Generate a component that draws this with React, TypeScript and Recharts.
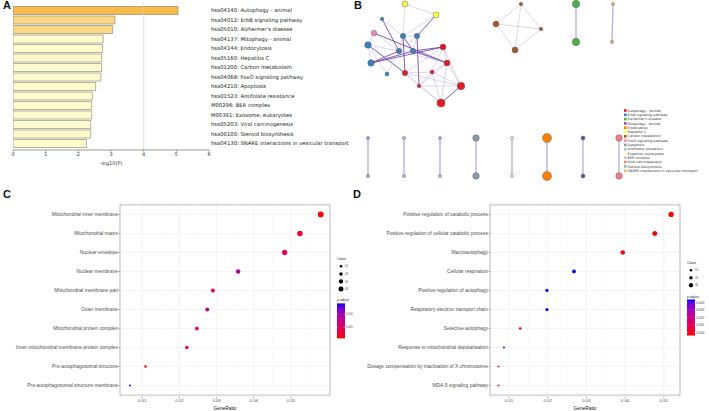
import React from 'react';
import {
  BarChart, Bar, XAxis, YAxis, ReferenceLine, Cell, ScatterChart, Scatter,
  CartesianGrid, ReferenceArea,
} from 'recharts';

// ---------------- Panel A data (Metascape KEGG enrichment) ----------------
const keggTerms = [
  'hsa04140: Autophagy - animal',
  'hsa04012: ErbB signaling pathway',
  "hsa05010: Alzheimer's disease",
  'hsa04137: Mitophagy - animal',
  'hsa04144: Endocytosis',
  'hsa05160: Hepatitis C',
  'hsa01200: Carbon metabolism',
  'hsa04068: FoxO signaling pathway',
  'hsa04210: Apoptosis',
  'hsa01523: Antifolate resistance',
  'M00296: BER complex',
  'M00391: Exosome, eukaryotes',
  'hsa05203: Viral carcinogenesis',
  'hsa00100: Steroid biosynthesis',
  'hsa04130: SNARE interactions in vesicular transport',
];
const keggLogP = [5.05, 3.12, 3.05, 2.76, 2.74, 2.71, 2.71, 2.69, 2.53, 2.43, 2.41, 2.41, 2.38, 2.38, 2.25];
const keggTicks = [0, 1, 2, 3, 4, 5, 6];

// ---------------- Panel B data (enriched term network) ----------------
const netClusters = [
  'Autophagy - animal', 'ErbB signaling pathway', "Alzheimer's disease", 'Mitophagy - animal',
  'Endocytosis', 'Hepatitis C', 'Carbon metabolism', 'FoxO signaling pathway', 'Apoptosis',
  'Antifolate resistance', 'Exosome, eukaryotes', 'BER complex', 'Viral carcinogenesis',
  'Steroid biosynthesis', 'SNARE interactions in vesicular transport',
];
const netClusterColors = [
  '#e41a1c', '#3a80b9', '#4daf4a', '#5b4b9f', '#ff7f00', '#ffff33', '#a65628', '#f781bf',
  '#8d9cab', '#8dd3c7', '#f4f9ef', '#bebada', '#f28080', '#80b1d3', '#fdb462',
];
const netLegendColors = [
  '#e41a1c', '#377eb8', '#4daf4a', '#984ea3', '#ff7f00', '#ffff33', '#a65628', '#f781bf',
  '#999999', '#8dd3c7', '#ffffb3', '#bebada', '#fb8072', '#80b1d3', '#fdb462',
];
// layout coordinates of each term node, its cluster and its gene count
const netNodeX = [50, 81, 27, 19, 48, 62, 13, 44, 58, 16, 32, 88, 92, 50, 77, 64, 106, 86,
  166, 141, 186, 160, 221, 221, 258, 257,
  13, 13, 49, 49, 85, 85, 121, 121, 157, 157, 192, 192, 228, 228, 264, 264];
const netNodeY = [4, 15, 19, 33, 36, 36, 45, 51, 51, 63, 74, 47, 63, 73, 72, 86, 86, 103,
  4, 24, 29, 50, 4, 42, 4, 42,
  138, 176, 138, 176, 138, 176, 138, 176, 138, 176, 138, 176, 138, 176, 138, 176];
const netNodeCluster = [5, 5, 1, 7, 1, 1, 1, 1, 1, 1, 1, 0, 0, 0, 0, 0, 0, 0,
  6, 6, 6, 6, 2, 2, 14, 14,
  13, 13, 11, 11, 9, 9, 8, 8, 10, 10, 4, 4, 3, 3, 12, 12];
const netNodeCount = [11, 11, 4, 9, 9, 9, 13, 9, 9, 13, 5, 11, 11, 9, 5, 4, 18, 20,
  4, 11, 4, 11, 17, 17, 3, 3,
  3, 3, 3, 3, 3, 3, 13, 13, 3, 3, 25, 25, 5, 5, 13, 13];
// edges: [from, to, strong(1)/weak(0)]
const netEdges: [number, number, number][] = [
  [0, 1, 0], [0, 4, 0], [1, 5, 1], [1, 4, 0], [2, 7, 1], [2, 4, 0], [3, 6, 0], [3, 7, 0], [3, 12, 1],
  [4, 5, 0], [4, 7, 0], [4, 8, 1], [5, 8, 0], [5, 7, 0], [4, 13, 1], [5, 15, 1],
  [6, 9, 0], [6, 7, 0], [6, 10, 0], [9, 7, 1], [9, 8, 1], [9, 11, 1], [7, 8, 0],
  [6, 13, 1], [10, 7, 0], [8, 11, 1], [8, 12, 1], [7, 12, 0],
  [11, 12, 0], [11, 14, 0], [11, 16, 0], [11, 13, 0], [12, 16, 0], [12, 14, 0], [12, 15, 0],
  [13, 14, 0], [13, 15, 0], [13, 17, 0], [13, 16, 0], [14, 15, 0], [14, 16, 0], [14, 17, 0],
  [15, 16, 0], [15, 17, 0], [16, 17, 1], [12, 17, 0],
  [18, 19, 0], [18, 20, 0], [18, 21, 0], [19, 20, 0], [19, 21, 0], [20, 21, 0],
  [22, 23, 1], [24, 25, 1],
  [26, 27, 1], [28, 29, 1], [30, 31, 1], [32, 33, 1], [34, 35, 1], [36, 37, 1], [38, 39, 1], [40, 41, 1],
];

// ---------------- Panel C data (GO cellular component) ----------------
const ccTerms = [
  'Mitochondrial inner membrane', 'Mitochondrial matrix', 'Nuclear envelope', 'Nuclear membrane',
  'Mitochondrial membrane part', 'Outer membrane', 'Mitochondrial protein complex',
  'Inner mitochondrial membrane protein complex', 'Pro-autophagosomal structure',
  'Pro-autophagosomal structure membrane',
];
const ccRatio = [0.058, 0.0524, 0.0483, 0.0358, 0.029, 0.0275, 0.0247, 0.022, 0.0109, 0.0067];
const ccCount = [52, 47, 43, 32, 26, 25, 22, 20, 10, 6];
const ccPadj = [0.0008, 0.0028, 0.0048, 0.0088, 0.0035, 0.0075, 0.0035, 0.0032, 0.0013, 0.0142];
const ccTicks = [0.01, 0.02, 0.03, 0.04, 0.05];
const ccMinor = [0.005, 0.015, 0.025, 0.035, 0.045, 0.055];
const ccCountLegend = [10, 20, 30, 40];
const ccPadjLegend = [0.010, 0.005];

// ---------------- Panel D data (GO biological process) ----------------
const bpTerms = [
  'Positive regulation of catabolic process', 'Positive regulation of cellular catabolic process',
  'Macroautophagy', 'Cellular respiration', 'Positive regulation of autophagy',
  'Respiratory electron transport chain', 'Selective autophagy',
  'Response to mitochondrial depolarisation', 'Dosage compensation by inactivation of X chromosome',
  'MDA-5 signaling pathway',
];
const bpRatio = [0.0519, 0.0477, 0.0394, 0.0268, 0.0198, 0.0198, 0.0129, 0.0087, 0.0073, 0.0073];
const bpCount = [44, 40, 33, 23, 17, 17, 11, 7, 6, 6];
const bpPadj = [0.00596, 0.00597, 0.00598, 0.00644, 0.00644, 0.00644, 0.00600, 0.00640, 0.00599, 0.00599];
const bpTicks = [0.01, 0.02, 0.03, 0.04, 0.05];
const bpMinor = [0.015, 0.025, 0.035, 0.045];
const bpCountLegend = [10, 20, 30];
const bpPadjLegend = [0.0064, 0.0063, 0.0062, 0.0061, 0.0060];

// ---------------- helpers ----------------
const GRAD = [
  [0, [255, 0, 0]], [0.25, [232, 0, 79]], [0.5, [201, 0, 137]], [0.75, [154, 0, 195]],
  [0.875, [112, 0, 221]], [1, [0, 0, 255]],
] as [number, number[]][];
function gradColor(t: number) {
  t = Math.max(0, Math.min(1, t));
  for (let i = 1; i < GRAD.length; i++) {
    const [t1, c1] = GRAD[i];
    const [t0, c0] = GRAD[i - 1];
    if (t <= t1) {
      const f = (t - t0) / (t1 - t0);
      const c = c0.map((v, k) => Math.round(v + (c1[k] - v) * f));
      return `rgb(${c[0]},${c[1]},${c[2]})`;
    }
  }
  return 'rgb(0,0,255)';
}
const dotR = (count: number) => 0.395 * Math.sqrt(count);
const nodeR = (count: number) => 0.9 * Math.sqrt(count);

const keggData = keggTerms.map((term, i) => ({ term, value: keggLogP[i] }));
const keggFill = (v: number) => (v >= 5 ? '#f8bb48' : v >= 3 ? '#fcd886' : '#fffbcd');

const netNodes = netNodeX.map((x, i) => ({ x, y: netNodeY[i], cluster: netNodeCluster[i], count: netNodeCount[i] }));

function makeRows(terms: string[], ratio: number[], count: number[], padj: number[]) {
  const lo = Math.min(...padj), hi = Math.max(...padj);
  return terms.map((term, i) => ({ term, ratio: ratio[i], count: count[i], padj: padj[i], t: (padj[i] - lo) / (hi - lo) }));
}
const ccData = makeRows(ccTerms, ccRatio, ccCount, ccPadj);
const bpData = makeRows(bpTerms, bpRatio, bpCount, bpPadj);

const SANS = 'Liberation Sans, Arial, sans-serif';
const DJV = 'DejaVu Sans, sans-serif';

// single-line tick label renderer (no wrapping)
const makeTick = (anchor: 'start' | 'end' | 'middle', fontSize: number, fill: string, family: string, dy: number) =>
  (props: any) => {
    const { x, y, payload } = props;
    return (
      <text x={x} y={y} dy={dy} textAnchor={anchor} fontSize={fontSize} fill={fill} fontFamily={family}>
        {payload.value}
      </text>
    );
  };
const keggYTick = makeTick('start', 5.25, '#222', DJV, 1.9);
const keggXTick = makeTick('middle', 5, '#333', DJV, 3.8);
const dotYTick = makeTick('end', 4.9, '#4d4d4d', SANS, 1.7);
const dotXTick = makeTick('middle', 4.3, '#4d4d4d', SANS, 3.3);

const DotShape = (props: any) => {
  const p = props.payload ?? props;
  if (props.cx == null || props.cy == null) return null;
  return <circle cx={props.cx} cy={props.cy} r={dotR(p.count)} fill={gradColor(p.t)} />;
};

const NodeShape = (props: any) => {
  const p = props.payload ?? props;
  if (props.cx == null || props.cy == null) return null;
  return (
    <circle cx={props.cx} cy={props.cy} r={nodeR(p.count)} fill={netClusterColors[p.cluster]}
      stroke="#5c6670" strokeWidth={0.5} />
  );
};

function DotLegend(props: { left: number; top: number; counts: number[]; padjLabels: number[]; padj: number[];
  rowGap: number; barH: number; digits: number }) {
  const { left, top, counts, padjLabels, padj, rowGap, barH, digits } = props;
  const lo = Math.min(...padj), hi = Math.max(...padj);
  const id = 'g' + left;
  const pTitle = 7 + counts.length * rowGap + 8;
  const barTop = pTitle + 2;
  return (
    <svg width={22} height={100} style={{ position: 'absolute', left, top, overflow: 'visible' }}>
      <defs>
        <linearGradient id={id} x1="0" y1="1" x2="0" y2="0">
          {GRAD.map(([t, c]) => (
            <stop key={t} offset={t} stopColor={`rgb(${c[0]},${c[1]},${c[2]})`} />
          ))}
        </linearGradient>
      </defs>
      <text x={0} y={4} fontSize={3.4} fontFamily={SANS} fill="#222">Count</text>
      {counts.map((c, i) => (
        <g key={c}>
          <circle cx={4} cy={7 + i * rowGap + rowGap / 2 - 0.5} r={dotR(c)} fill="#000" />
          <text x={8} y={7 + i * rowGap + rowGap / 2 + 0.6} fontSize={2.8} fontFamily={SANS} fill="#444">{c}</text>
        </g>
      ))}
      <text x={0} y={pTitle} fontSize={3.4} fontFamily={SANS} fill="#222">p.adjust</text>
      <rect x={0} y={barTop} width={8} height={barH} fill={`url(#${id})`} />
      {padjLabels.map((v) => {
        const t = (v - lo) / (hi - lo);
        const y = barTop + barH * (1 - t);
        return (
          <g key={v}>
            <line x1={0} x2={1.5} y1={y} y2={y} stroke="#fff" strokeWidth={0.3} />
            <line x1={6.5} x2={8} y1={y} y2={y} stroke="#fff" strokeWidth={0.3} />
            <text x={9} y={y + 1} fontSize={2.7} fontFamily={SANS} fill="#444">{v.toFixed(digits)}</text>
          </g>
        );
      })}
    </svg>
  );
}

function DotPlot(props: { data: any[]; width: number; yWidth: number; right: number; domain: [number, number];
  ticks: number[]; minor: number[] }) {
  const { data, width, yWidth, right, domain, ticks, minor } = props;
  return (
    <ScatterChart width={width} height={221} margin={{ top: 13, right, bottom: 0, left: 2 }}>
      <CartesianGrid stroke="#ebebeb" strokeWidth={0.6} />
      {minor.map((m) => (
        <ReferenceLine key={m} x={m} stroke="#f3f3f3" strokeWidth={0.4} />
      ))}
      <XAxis type="number" dataKey="ratio" domain={domain} allowDataOverflow ticks={ticks} height={14}
        tick={dotXTick} tickSize={1.5} tickMargin={0.5}
        tickLine={{ stroke: '#333', strokeWidth: 0.4 }} axisLine={false}
        label={{ value: 'GeneRatio', position: 'insideBottom', offset: 1.5, fontSize: 4.8, fill: '#111', fontFamily: SANS }} />
      <YAxis type="category" dataKey="term" reversed width={yWidth} interval={0} padding={{ top: 1.9, bottom: 1.9 }}
        tick={dotYTick} tickSize={1.5} tickMargin={0.6}
        tickLine={{ stroke: '#333', strokeWidth: 0.4 }} axisLine={false} />
      <ReferenceArea x1={domain[0]} x2={domain[1]} fill="none" stroke="#a6a6a6" strokeWidth={0.7} ifOverflow="visible" />
      <Scatter data={data} shape={DotShape} isAnimationActive={false} />
    </ScatterChart>
  );
}

const panelLabel = (text: string, left: number, top: number) => (
  <div style={{ position: 'absolute', left, top, fontFamily: 'Liberation Sans, Arial, sans-serif', fontWeight: 700,
    fontSize: 11, lineHeight: '11px', color: '#111' }}>{text}</div>
);

export default function App() {
  return (
    <div style={{ position: 'absolute', left: 0, top: 0, width: 709, height: 411, background: '#fff', overflow: 'hidden' }}>
      {/* Panel A */}
      <div style={{ position: 'absolute', left: 0, top: 0 }}>
        <BarChart width={360} height={170} data={keggData} layout="vertical"
          margin={{ top: 2, right: 0, left: 13, bottom: 4 }}>
          <XAxis type="number" domain={[0, 6]} ticks={keggTicks} height={16} allowDataOverflow
            tick={keggXTick} tickSize={1.8} tickMargin={0.8}
            tickLine={{ stroke: '#555', strokeWidth: 0.5 }} axisLine={{ stroke: '#555', strokeWidth: 0.6 }}
            label={{ value: '-log10(P)', position: 'insideBottom', offset: 1, fontSize: 5, fill: '#333', fontFamily: DJV }} />
          <XAxis xAxisId="top" orientation="top" type="number" domain={[0, 6]} ticks={keggTicks} height={0}
            tick={false} tickLine={false} axisLine={{ stroke: '#888', strokeWidth: 0.5 }} />
          <YAxis type="category" dataKey="term" orientation="right" width={151} interval={0}
            padding={{ top: 3.5, bottom: 2 }} tickLine={false} axisLine={false} tickSize={0} tickMargin={2}
            tick={keggYTick} />
          <YAxis yAxisId="left" type="category" dataKey="term" orientation="left" width={0}
            tick={false} tickLine={false} axisLine={{ stroke: '#666', strokeWidth: 0.6 }} />
          <ReferenceLine x={4} stroke="#d0d0d0" strokeWidth={0.6} />
          <Bar dataKey="value" barSize={8} stroke="#7f7f70" strokeWidth={0.6} isAnimationActive={false}>
            {keggData.map((d) => (
              <Cell key={d.term} fill={keggFill(d.value)} />
            ))}
          </Bar>
        </BarChart>
      </div>

      {/* Panel B */}
      <div style={{ position: 'absolute', left: 355, top: 0 }}>
        <ScatterChart width={354} height={190} margin={{ top: 0, right: 0, bottom: 0, left: 0 }}>
          <XAxis type="number" dataKey="x" domain={[0, 354]} hide allowDataOverflow />
          <YAxis type="number" dataKey="y" domain={[0, 190]} reversed hide allowDataOverflow />
          {netEdges.map(([a, b, s], i) => (
            <ReferenceLine key={i} ifOverflow="visible"
              segment={[{ x: netNodes[a].x, y: netNodes[a].y }, { x: netNodes[b].x, y: netNodes[b].y }]}
              stroke={s ? (a >= 22 ? '#b6a3dc' : '#6c3fa3') : '#b8a6dc'}
              strokeWidth={s ? (a >= 22 ? 1.3 : 0.9) : 0.6} strokeOpacity={s ? 0.95 : 0.8} />
          ))}
          <Scatter data={netNodes} shape={NodeShape} isAnimationActive={false} />
        </ScatterChart>
        <svg width={90} height={70} style={{ position: 'absolute', left: 268, top: 108, overflow: 'visible' }}>
          {netClusters.map((name, i) => (
            <g key={name}>
              <rect x={1} y={1.2 + i * 4.3} width={2.6} height={2.6} fill={netLegendColors[i]} />
              <text x={4.6} y={3.6 + i * 4.3} fontSize={3.4} fontFamily={DJV} fill="#333">{name}</text>
            </g>
          ))}
        </svg>
      </div>

      {/* Panel C */}
      <div style={{ position: 'absolute', left: 0, top: 190 }}>
        <DotPlot data={ccData} width={355} yWidth={118} right={25} domain={[0.00403, 0.0605]} ticks={ccTicks} minor={ccMinor} />
        <DotLegend left={337} top={66} counts={ccCountLegend} padjLabels={ccPadjLegend} padj={ccPadj}
          rowGap={7.6} barH={35} digits={3} />
      </div>

      {/* Panel D */}
      <div style={{ position: 'absolute', left: 355, top: 190 }}>
        <DotPlot data={bpData} width={354} yWidth={133} right={29} domain={[0.00509, 0.0542]} ticks={bpTicks} minor={bpMinor} />
        <DotLegend left={332} top={70} counts={bpCountLegend} padjLabels={bpPadjLegend} padj={bpPadj}
          rowGap={7.5} barH={36} digits={4} />
      </div>

      {panelLabel('A', 3, 0)}
      {panelLabel('B', 354, 0)}
      {panelLabel('C', 3, 189)}
      {panelLabel('D', 353, 189)}
    </div>
  );
}
